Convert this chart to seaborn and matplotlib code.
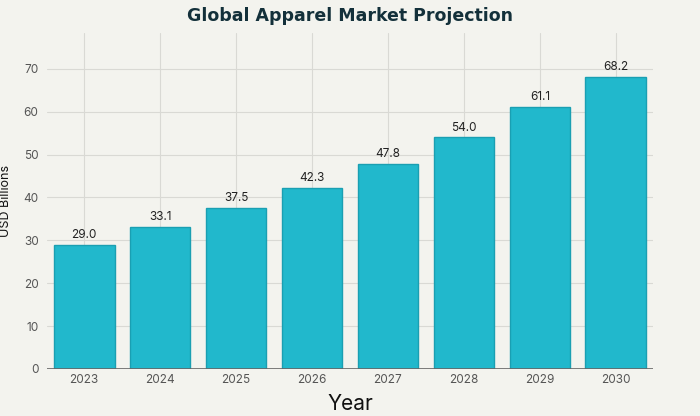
import matplotlib
matplotlib.use("Agg")
import matplotlib.pyplot as plt
import seaborn as sns
import pandas as pd

years = ["2023", "2024", "2025", "2026", "2027", "2028", "2029", "2030"]
market_size = [29.0, 33.1, 37.5, 42.3, 47.8, 54.0, 61.1, 68.2]

bg = "#f3f3ee"
bar_color = "#21b8cc"
edge_color = "#1a9fb2"

sns.set_style("whitegrid")
plt.rcParams["font.family"] = ["Inter", "DejaVu Sans"]

df = pd.DataFrame({"Year": years, "USD Billions": market_size})

fig = plt.figure(figsize=(7, 4.16), dpi=100, facecolor=bg)
ax = fig.add_axes([0.067, 0.113, 0.866, 0.808])
ax.set_facecolor(bg)

sns.barplot(data=df, x="Year", y="USD Billions", color=bar_color,
            edgecolor=edge_color, linewidth=1, width=0.8, saturation=1, ax=ax)

# value labels on top of bars
for i, v in enumerate(market_size):
    ax.text(i, v + 0.9, f"{v:.1f}", ha="center", va="bottom",
            fontsize=8.5, color="#222222")

ax.set_ylim(0, 78.4)
ax.set_xlim(-0.49, 7.49)
ax.set_yticks(range(0, 80, 10))
ax.grid(True, color="#d9d9d4", linewidth=0.8)
ax.set_axisbelow(True)
for s in ["top", "right", "left", "bottom"]:
    ax.spines[s].set_visible(False)
ax.axhline(0, color="#666666", linewidth=1.2, zorder=3)

ax.tick_params(axis="both", length=0, labelsize=8.5, labelcolor="#555555")
ax.tick_params(axis="y", pad=6)
ax.set_xlabel("Year", fontsize=15, color="#111111", labelpad=6)
ax.set_ylabel("USD Billions", fontsize=9, color="#111111")
ax.yaxis.set_label_coords(-0.058, 0.5)

fig.text(0.5, 0.962, "Global Apparel Market Projection", ha="center", va="center",
         fontsize=12.5, fontweight="heavy", color="#13303a", family="DejaVu Sans")

fig.savefig("out.png", dpi=100, facecolor=bg)
